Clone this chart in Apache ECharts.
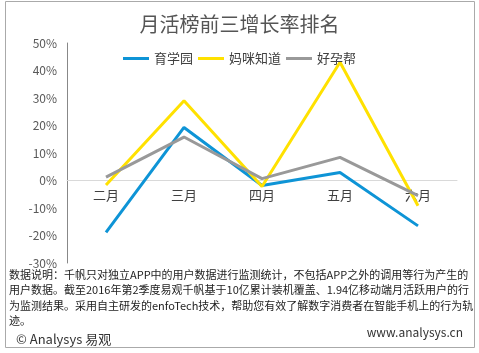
<!DOCTYPE html>
<html>
<head>
<meta charset="utf-8">
<script src="https://cdn.jsdelivr.net/npm/echarts@6/dist/echarts.min.js"></script>
<style>
html,body{margin:0;padding:0;background:#fff;}
#main{width:479px;height:353px;}
</style>
</head>
<body>
<div id="main"></div>
<script>
var months = ['二月', '三月', '四月', '五月', '六月'];
var yuxueyuan = [-18.9, 19.3, -1.8, 2.9, -16.5];
var mamizhidao = [-1.6, 29.0, -2.2, 43.0, -9.2];
var haoyunbang = [1.2, 15.8, 0.7, 8.4, -5.5];
var seriesNames = ['育学园', '妈咪知道', '好孕帮'];
var noteLines = [
    '数据说明：千帆只对独立APP中的用户数据进行监测统计，不包括APP之外的调用等行为产生的',
    '用户数据。截至2016年第2季度易观千帆基于10亿累计装机覆盖、1.94亿移动端月活跃用户的行',
    '为监测结果。采用自主研发的enfoTech技术，帮助您有效了解数字消费者在智能手机上的行为轨',
    '迹。'
];

var FONT = '"Noto Sans CJK SC", "Microsoft YaHei", sans-serif';

function initChart() {
    var myChart = echarts.init(document.getElementById('main'));

    // 脚注文字
    var notes = [];
    for (var i = 0; i < noteLines.length; i++) {
        notes.push({
            type: 'text',
            left: 9,
            top: 269 + i * 15.5,
            style: {text: noteLines[i], fontSize: 11, fill: '#222', fontFamily: FONT}
        });
    }

    var option = {
        backgroundColor: '#fff',
        title: {
            text: '月活榜前三增长率排名',
            left: 'center',
            top: 9,
            textStyle: {fontSize: 20, fontWeight: 'normal', color: '#555', fontFamily: FONT}
        },
        legend: {
            data: seriesNames,
            top: 47,
            left: 'center',
            itemWidth: 26,
            itemHeight: 3,
            itemGap: 5,
            icon: 'rect',
            textStyle: {fontSize: 13, color: '#404040', fontFamily: FONT}
        },
        grid: {left: 67, right: 22, top: 43, bottom: 90},
        xAxis: {
            type: 'category',
            data: months,
            boundaryGap: true,
            offset: -82.3,
            axisLine: {onZero: false, lineStyle: {color: '#d9d9d9', width: 1}},
            axisTick: {show: false},
            axisLabel: {fontSize: 13, color: '#404040', margin: 8, fontFamily: FONT}
        },
        yAxis: {
            type: 'value',
            min: -30,
            max: 50,
            interval: 10,
            splitLine: {show: false},
            axisLine: {show: true, lineStyle: {color: '#888', width: 1}},
            axisTick: {show: false},
            axisLabel: {formatter: '{value}%', fontSize: 12, color: '#595959', margin: 10, fontFamily: FONT}
        },
        series: [{
            name: seriesNames[0],
            type: 'line',
            data: yuxueyuan,
            symbol: 'none',
            lineStyle: {width: 3, color: '#0e94d6'},
            itemStyle: {color: '#0e94d6'}
        }, {
            name: seriesNames[1],
            type: 'line',
            data: mamizhidao,
            symbol: 'none',
            lineStyle: {width: 3, color: '#ffe100'},
            itemStyle: {color: '#ffe100'}
        }, {
            name: seriesNames[2],
            type: 'line',
            data: haoyunbang,
            symbol: 'none',
            lineStyle: {width: 3, color: '#999999'},
            itemStyle: {color: '#999999'}
        }],
        graphic: [{
            type: 'rect',
            shape: {x: 5.5, y: 1.5, width: 469, height: 346},
            style: {fill: 'none', stroke: '#aaa', lineWidth: 1},
            silent: true
        }, {
            type: 'text',
            left: 16,
            top: 333,
            style: {text: '© Analysys 易观', fontSize: 13, fill: '#333', fontFamily: FONT}
        }, {
            type: 'text',
            right: 16,
            top: 326,
            style: {text: 'www.analysys.cn', fontSize: 12, fill: '#333', fontFamily: FONT}
        }].concat(notes)
    };

    myChart.setOption(option);
}

initChart();
</script>
</body>
</html>
